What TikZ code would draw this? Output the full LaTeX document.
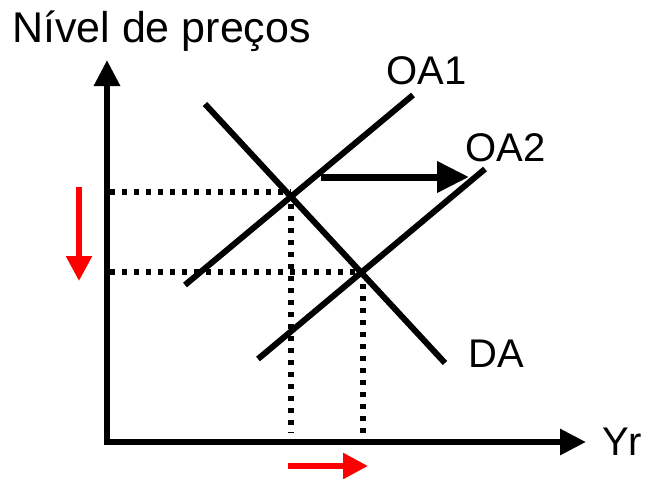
\documentclass[tikz,border=0pt]{standalone}
\usepackage{fontspec}
\setmainfont{Liberation Sans}
\usetikzlibrary{arrows.meta}
\begin{document}
\begin{tikzpicture}[x=1pt,y=-1pt,
  lbl/.style={inner sep=0pt,anchor=base west,font=\fontsize{40}{46}\selectfont},
  curve/.style={line width=6pt,black},
  axis/.style={line width=6pt,-{Triangle[length=26pt,width=25pt]}},
  guide/.style={line width=5.5pt,dash pattern=on 5pt off 7pt},
  shiftarr/.style={line width=7pt,-{Triangle[length=32pt,width=30pt]}},
  redarr/.style={line width=5.5pt,red,-{Triangle[length=25pt,width=25pt]}}]
\useasboundingbox (0,0) rectangle (648,479);
% coordinates
\coordinate (O) at (107,442);
\coordinate (ytop) at (107,60);
\coordinate (xend) at (586,442);
\coordinate (E1) at (291,192);
\coordinate (E2) at (363,272);
\coordinate (yE1) at (110,192);
\coordinate (yE2) at (110,272);
\coordinate (xE1) at (291,433);
\coordinate (xE2) at (363,436);
\coordinate (oa1a) at (185,285);
\coordinate (oa1b) at (413,95);
\coordinate (oa2a) at (258,359);
\coordinate (oa2b) at (485,169);
\coordinate (daa) at (205,104);
\coordinate (dab) at (445,363);
\coordinate (s1) at (321,177);
\coordinate (s2) at (469,177);
\coordinate (r1) at (79,187);
\coordinate (r2) at (79,281);
\coordinate (h1) at (288,466);
\coordinate (h2) at (368,466);
% labels
\node[lbl,font=\fontsize{43}{49}\selectfont] (ylab) at (12,42) {Nível de preços};
\node[lbl] (xlab) at (602,455) {Yr};
\node[lbl] (oa1l) at (386,84) {OA1};
\node[lbl] (oa2l) at (465,161) {OA2};
\node[lbl] (dal) at (468,367) {DA};
% dotted guides
\draw[guide] (yE1) -- (E1);
\draw[guide] (yE2) -- (E2);
\draw[guide] (E1) -- (xE1);
\draw[guide] (E2) -- (xE2);
% axes
\draw[axis] ([yshift=3pt]O) -- (ytop);
\draw[axis] ([xshift=-3pt]O) -- (xend);
% curves
\draw[curve] (oa1a) -- (oa1b);
\draw[curve] (oa2a) -- (oa2b);
\draw[curve] (daa) -- (dab);
% shift arrow
\draw[shiftarr] (s1) -- (s2);
% red arrows
\draw[redarr] (r1) -- (r2);
\draw[redarr] (h1) -- (h2);
\end{tikzpicture}
\end{document}
